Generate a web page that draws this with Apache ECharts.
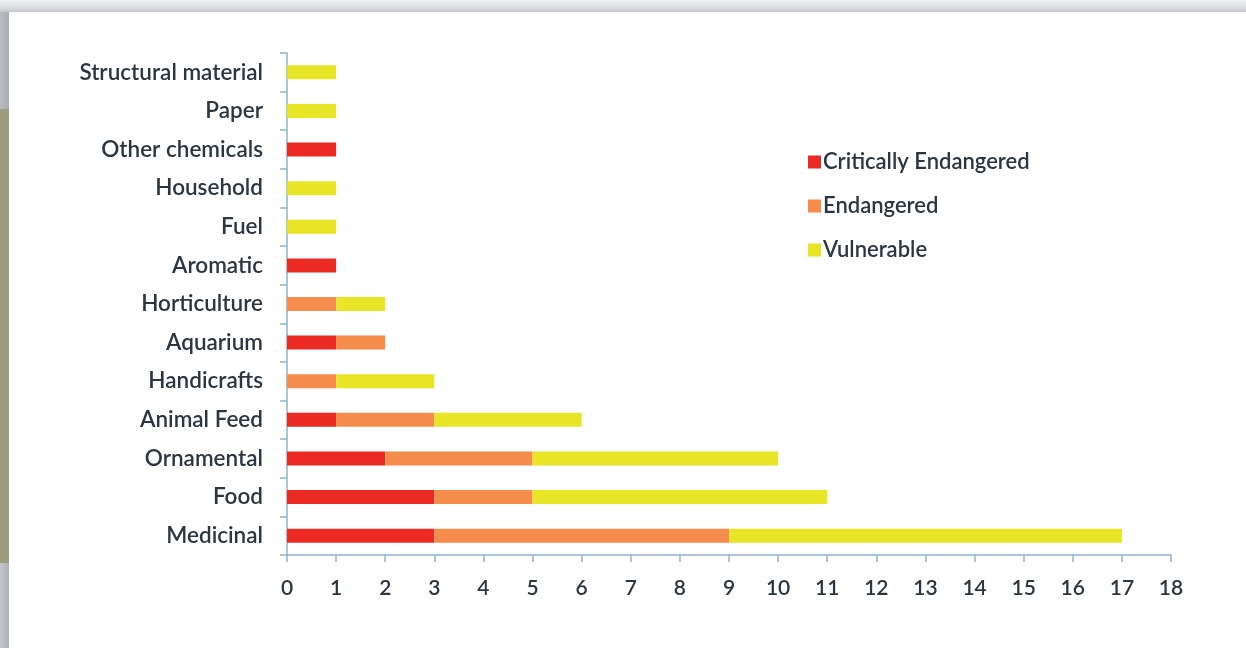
<!DOCTYPE html>
<html>
<head>
<meta charset="utf-8">
<script src="https://cdn.jsdelivr.net/npm/echarts@6/dist/echarts.min.js"></script>
<style>
  html, body { margin: 0; padding: 0; width: 1246px; height: 648px; overflow: hidden; background: #ffffff; }
  #topbar { position: absolute; left: 0; top: 0; width: 1246px; height: 12px;
    background: linear-gradient(to bottom, #f0f1f3 0%, #dcdee1 60%, #c3c6ca 100%); }
  #sideTop { position: absolute; left: 0; top: 12px; width: 9px; height: 97px;
    background: linear-gradient(to right, #b9bcc1, #a9acb1); }
  #sideMid { position: absolute; left: 0; top: 109px; width: 9px; height: 454px; background: #9d9d7e; }
  #sideBot { position: absolute; left: 0; top: 563px; width: 9px; height: 85px;
    background: linear-gradient(to right, #c3c6ca, #adb0b5); }
  #chart { position: absolute; left: 0; top: 0; width: 1246px; height: 648px; }
</style>
</head>
<body>
<div id="topbar"></div>
<div id="sideTop"></div>
<div id="sideMid"></div>
<div id="sideBot"></div>
<div id="chart"></div>
<script>
// Uses of threatened species, listed bottom to top
const categories = ['Medicinal', 'Food', 'Ornamental', 'Animal Feed', 'Handicrafts', 'Aquarium',
  'Horticulture', 'Aromatic', 'Fuel', 'Household', 'Other chemicals', 'Paper', 'Structural material'];
const criticallyEndangered = [3, 3, 2, 1, 0, 1, 0, 1, 0, 0, 1, 0, 0];
const endangered           = [6, 2, 3, 2, 1, 1, 1, 0, 0, 0, 0, 0, 0];
const vulnerable           = [8, 6, 5, 3, 2, 0, 1, 0, 1, 1, 0, 1, 1];
const seriesNames = ['Critically Endangered', 'Endangered', 'Vulnerable'];
const seriesColors = ['#ec2a24', '#f68c4b', '#e7e526'];

const axisBlue = '#8db5cc';
const textColor = '#2b3640';
const font = 'Lato, "Open Sans", sans-serif';

const chart = echarts.init(document.getElementById('chart'), null, { renderer: 'canvas' });

const makeSeries = (name, data, color) => ({
  name: name,
  type: 'bar',
  stack: 'total',
  data: data,
  barWidth: 14,
  itemStyle: { color: color },
  emphasis: { disabled: true }
});

chart.setOption({
  animation: false,
  grid: { left: 287, right: 75, top: 53, bottom: 93, containLabel: false },
  legend: {
    orient: 'vertical',
    left: 803,
    top: 146,
    itemWidth: 13,
    itemHeight: 13,
    itemGap: 22,
    icon: 'rect',
    textStyle: { fontFamily: font, fontSize: 22, fontWeight: 600, color: textColor, padding: [0, 0, 0, -3] },
    data: seriesNames
  },
  xAxis: {
    type: 'value',
    min: 0,
    max: 18,
    interval: 1,
    splitLine: { show: false },
    axisLine: { show: true, lineStyle: { color: axisBlue, width: 1.5 } },
    axisTick: { show: true, length: 7, lineStyle: { color: axisBlue, width: 1.5 } },
    axisLabel: { fontFamily: font, fontSize: 21, fontWeight: 600, color: textColor, margin: 23 }
  },
  yAxis: {
    type: 'category',
    data: categories,
    axisLine: { show: true, lineStyle: { color: axisBlue, width: 1.5 } },
    axisTick: { show: true, length: 7, lineStyle: { color: axisBlue, width: 1.5 } },
    axisLabel: { fontFamily: font, fontSize: 22.5, fontWeight: 600, color: textColor, margin: 24 }
  },
  series: [
    makeSeries(seriesNames[0], criticallyEndangered, seriesColors[0]),
    makeSeries(seriesNames[1], endangered, seriesColors[1]),
    makeSeries(seriesNames[2], vulnerable, seriesColors[2])
  ]
});
</script>
</body>
</html>
